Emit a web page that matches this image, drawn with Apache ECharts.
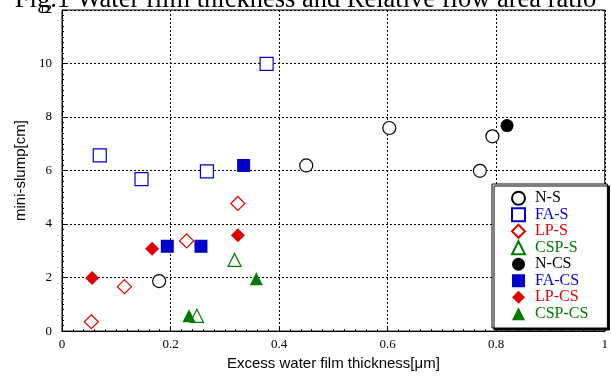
<!DOCTYPE html>
<html><head><meta charset="utf-8">
<script src="https://cdn.jsdelivr.net/npm/echarts@6/dist/echarts.min.js"></script>
<style>html,body{margin:0;padding:0;background:#fff}#c{width:611px;height:376px}</style>
</head><body><div id="c"></div>
<script>
const titleText = "Fig.1 Water film thickness and Relative flow area ratio";
const xName = "Excess water film thickness[μm]";
const yName = "mini-slump[cm]";
const seriesNames = ["N-S","FA-S","LP-S","CSP-S","N-CS","FA-CS","LP-CS","CSP-CS"];
const nS   = [[0.179,1.87],[0.45,6.19],[0.603,7.59],[0.770,5.99],[0.793,7.28]];
const faS  = [[0.377,9.99],[0.0696,6.57],[0.1465,5.68],[0.267,5.97]];
const lpS  = [[0.324,4.77],[0.2296,3.37],[0.115,1.66],[0.054,0.35]];
const cspS = [[0.318,2.66],[0.2485,0.57]];
const nCS  = [[0.82,7.68]];
const faCS = [[0.3346,6.19],[0.194,3.17],[0.256,3.17]];
const lpCS = [[0.324,3.58],[0.166,3.08],[0.0555,1.98]];
const cspCS= [[0.358,1.96],[0.234,0.57]];
const xTicks = [0,0.2,0.4,0.6,0.8,1];
const yTicks = [0,2,4,6,8,10,12];

const BLACK='#000', BLUE='#0000cc', RED='#e00000', GREEN='#007a00';
const datas=[nS,faS,lpS,cspS,nCS,faCS,lpCS,cspCS];
const colors=[BLACK,BLUE,RED,GREEN,BLACK,BLUE,RED,GREEN];
const symbols=['circle','rect','diamond','triangle','circle','rect','diamond','triangle'];
const sizes=[13,13,14,13,13,13,14,13];
const series = seriesNames.map((n,i)=>{
  const open = i<4;
  return {
    name:n, type:'scatter', data:datas[i], symbol:symbols[i], symbolSize:sizes[i],
    itemStyle: open ? {color:'#fff', borderColor:colors[i], borderWidth:1.2, opacity:1}
                    : {color:colors[i], borderColor:colors[i], borderWidth:0, opacity:1},
    emphasis:{disabled:true}, z:5
  };
});
const chart = echarts.init(document.getElementById('c'), null, {renderer:'canvas'});
chart.setOption({
  animation:false,
  backgroundColor:'#fff',
  grid:{left:62, right:4, top:10, bottom:44, show:true, borderColor:'#000', borderWidth:1, backgroundColor:'transparent'},
  xAxis:{
    type:'value', min:xTicks[0], max:xTicks[xTicks.length-1], interval:0.2,
    name:xName, nameLocation:'middle', nameGap:24,
    nameTextStyle:{fontFamily:'Liberation Sans', fontSize:15, color:'#000'},
    axisLine:{show:true, onZero:false, lineStyle:{color:'#000', width:1}},
    axisTick:{show:true, inside:true, length:4, lineStyle:{color:'#000'}},
    minorTick:{show:true, splitNumber:10, length:2, lineStyle:{color:'#000'}},
    axisLabel:{fontFamily:'Liberation Serif', fontSize:13, color:'#000', margin:7,
      formatter:v=>String(v)},
    splitLine:{show:true, lineStyle:{color:'#000', type:[2,2], width:1}}
  },
  yAxis:{
    type:'value', min:yTicks[0], max:yTicks[yTicks.length-1], interval:2,
    name:yName, nameLocation:'middle', nameGap:30,
    nameTextStyle:{fontFamily:'Liberation Sans', fontSize:15, color:'#000'},
    axisLine:{show:true, onZero:false, lineStyle:{color:'#000', width:1}},
    axisTick:{show:true, inside:true, length:4, lineStyle:{color:'#000'}},
    minorTick:{show:true, splitNumber:10, length:2, lineStyle:{color:'#000'}},
    axisLabel:{fontFamily:'Liberation Serif', fontSize:13, color:'#000', margin:10},
    splitLine:{show:true, lineStyle:{color:'#000', type:[2,2], width:1}}
  },
  legend:{
    orient:'vertical', left:492, top:184, width:115,
    padding:[6,19,6,19], itemGap:0, itemWidth:13, itemHeight:13,
    backgroundColor:'#fff', borderColor:'#000', borderWidth:1,
    shadowColor:'#000', shadowOffsetX:2, shadowOffsetY:2, shadowBlur:0,
    textStyle:{fontFamily:'Liberation Serif', fontSize:16, lineHeight:16.5, padding:[0,0,0,5]},
    data: seriesNames.map((n,i)=>({name:n, textStyle:{color:colors[i]}})),
    selectedMode:false
  },
  graphic:[{
    type:'text', z:100, left:'center',
    style:{text:titleText, x:0, y:0, fontFamily:'Liberation Serif', fontSize:26.5, fill:'#000'},
    top:-13
  }],
  series:series
});
</script></body></html>
